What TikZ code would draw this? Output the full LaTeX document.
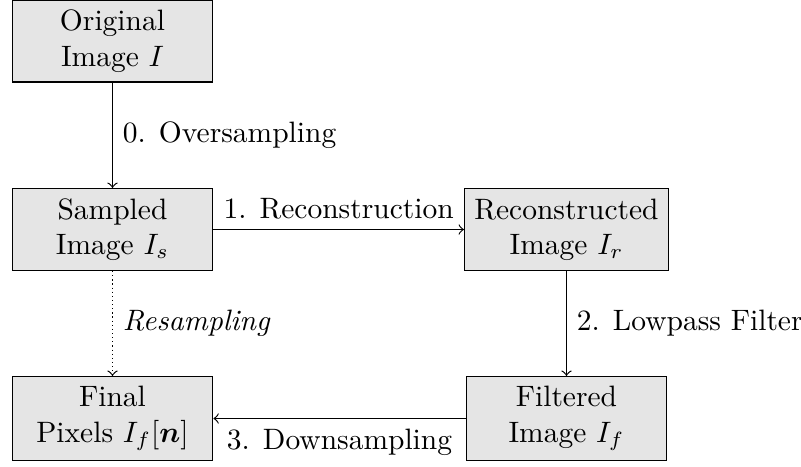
\documentclass[tikz,border=0pt]{standalone}
\usepackage{amsmath}
\begin{document}
\begin{tikzpicture}[x=0.339pt,y=-0.339pt,
  box/.style={draw=black,fill=gray!20,align=center,minimum width=68pt,line width=0.4pt},
  conn/.style={->,line width=0.4pt}]
\useasboundingbox (0,0) rectangle (801,466);
\node[box] (orig) at (112.5,41) {Original\\Image $I$};
\node[box] (samp) at (112.5,229.5) {Sampled\\Image $I_s$};
\node[box] (rec) at (566.5,229.5) {Reconstructed\\Image $I_r$};
\node[box] (fin) at (112.5,418.5) {Final\\Pixels $I_f[\boldsymbol{n}]$};
\node[box] (fil) at (566.5,418.5) {Filtered\\Image $I_f$};
\draw[conn] (orig) -- node[right] {0. Oversampling} (samp);
\draw[conn] (samp) -- node[above] {1. Reconstruction} (rec);
\draw[conn] (rec) -- node[right] {2. Lowpass Filter} (fil);
\draw[conn] (fil) -- node[below] {3. Downsampling} (fin);
\draw[conn,densely dotted] (samp) -- node[right] {\textit{Resampling}} (fin);
\end{tikzpicture}
\end{document}
